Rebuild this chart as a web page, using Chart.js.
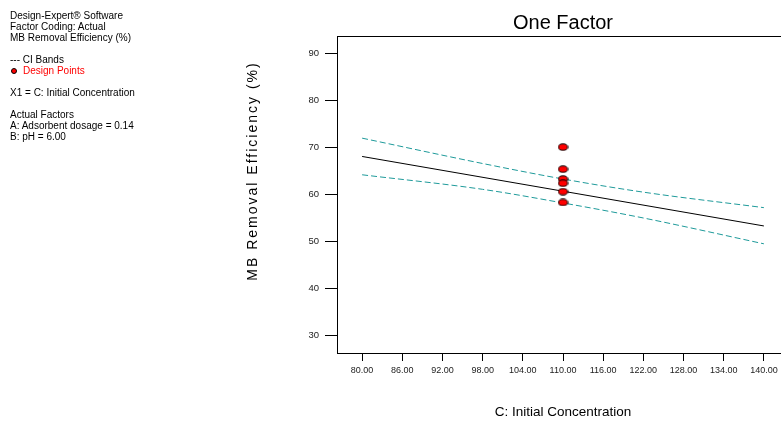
<!DOCTYPE html>
<html>
<head>
<meta charset="utf-8">
<title>One Factor</title>
<script src="https://cdn.jsdelivr.net/npm/chart.js@4.4.0/dist/chart.umd.min.js"></script>
<style>
    html, body { margin: 0; padding: 0; background: #fff; overflow: hidden; width: 781px; height: 423px; }
    #wrap { position: relative; width: 800px; height: 423px; }
    #chart { position: absolute; left: 0; top: 0; }
    #notes {
        position: absolute; left: 10px; top: 10px;
        font: 10px "Liberation Sans", Arial, sans-serif;
        line-height: 11px; color: #000; white-space: pre;
    }
    #notes .gap { height: 11px; }
    #notes .red { color: #ff0000; }
    #notes .dot {
        display: inline-block; width: 4px; height: 4px; border-radius: 50%;
        background: #ff0000; border: 1px solid #000; margin: 0 6px 1px 1px; vertical-align: middle;
    }
</style>
</head>
<body>
<div id="wrap">
    <canvas id="chart" width="800" height="423"></canvas>
    <div id="notes"><div>Design-Expert® Software</div><div>Factor Coding: Actual</div><div>MB Removal Efficiency (%)</div><div class="gap"></div><div>--- CI Bands</div><div><span class="dot"></span><span class="red">Design Points</span></div><div class="gap"></div><div>X1 = C: Initial Concentration</div><div class="gap"></div><div>Actual Factors</div><div>A: Adsorbent dosage = 0.14</div><div>B: pH = 6.00</div></div>
</div>

<script>
// ===============================
// DATA
// ===============================
const xTicks = [80, 86, 92, 98, 104, 110, 116, 122, 128, 134, 140];
const yTicks = [30, 40, 50, 60, 70, 80, 90];

const fitX = [80, 110, 140];
const fitY = [68.1, 60.7, 53.3];

const ciX = [80, 98, 110, 122, 140];
const ciUpper = [72.0, 66.6, 63.3, 60.5, 57.2];
const ciLower = [64.2, 61.1, 58.2, 55.0, 49.5];

const designX = [110, 110, 110, 110, 110, 110];
const designY = [70.1, 65.4, 63.3, 62.4, 60.6, 58.3];

const chartTitle = "One Factor";
const xTitle = "C: Initial Concentration";
const yTitle = "MB Removal Efficiency (%)";

const FONT = '"Liberation Sans", Arial, sans-serif';
const TEAL = "#1e9a9a";

function toPoints(xs, ys) {
    return xs.map((x, i) => ({ x, y: ys[i] }));
}

// red ellipse marker with black outline
function ellipseMarker() {
    const c = document.createElement("canvas");
    c.width = 11;
    c.height = 8;
    const g = c.getContext("2d");
    g.beginPath();
    g.ellipse(5.5, 4, 4.6, 3.2, 0, 0, Math.PI * 2);
    g.fillStyle = "#ff0000";
    g.fill();
    g.lineWidth = 1;
    g.strokeStyle = "#000";
    g.stroke();
    return c;
}

// frame around plot area (top + right edges)
const framePlugin = {
    id: "frame",
    beforeDatasetsDraw(chart) {
        const { ctx, chartArea: a } = chart;
        ctx.save();
        ctx.strokeStyle = "#000";
        ctx.lineWidth = 1;
        ctx.strokeRect(Math.round(a.left) + 0.5, Math.round(a.top) + 0.5,
            Math.round(a.right - a.left), Math.round(a.bottom - a.top));
        ctx.restore();
    }
};

// letter-spaced vertical axis title
const yTitlePlugin = {
    id: "yTitle",
    afterDraw(chart) {
        const ctx = chart.ctx;
        ctx.save();
        ctx.translate(253, 171);
        ctx.rotate(-Math.PI / 2);
        ctx.font = `14px ${FONT}`;
        ctx.letterSpacing = "2px";
        ctx.fillStyle = "#000";
        ctx.textAlign = "center";
        ctx.textBaseline = "middle";
        ctx.fillText(yTitle, 0, 0);
        ctx.restore();
    }
};

Chart.defaults.font.family = FONT;

new Chart(document.getElementById("chart"), {
    type: "scatter",
    data: {
        datasets: [
            {
                label: "Design Points",
                data: toPoints(designX, designY),
                pointStyle: ellipseMarker(),
                showLine: false
            },
            {
                label: "Fit",
                data: toPoints(fitX, fitY),
                showLine: true,
                borderColor: "#000",
                borderWidth: 1,
                pointRadius: 0,
                tension: 0
            },
            {
                label: "CI upper",
                data: toPoints(ciX, ciUpper),
                showLine: true,
                borderColor: TEAL,
                borderWidth: 1,
                borderDash: [6, 3],
                pointRadius: 0,
                cubicInterpolationMode: "monotone"
            },
            {
                label: "CI lower",
                data: toPoints(ciX, ciLower),
                showLine: true,
                borderColor: TEAL,
                borderWidth: 1,
                borderDash: [6, 3],
                pointRadius: 0,
                cubicInterpolationMode: "monotone"
            }
        ]
    },
    options: {
        responsive: false,
        animation: false,
        layout: { padding: { left: 0, right: 11, top: 0, bottom: 0 } },
        plugins: {
            legend: { display: false },
            tooltip: { enabled: false },
            title: {
                display: true,
                text: chartTitle,
                fullSize: false,
                color: "#000",
                font: { size: 20, weight: "normal" },
                padding: { top: 11, bottom: 1 }
            }
        },
        scales: {
            x: {
                type: "linear",
                min: 76.25,
                max: 143.75,
                afterBuildTicks: s => { s.ticks = xTicks.map(v => ({ value: v })); },
                afterFit: s => { s.height = 70; },
                ticks: {
                    color: "#222",
                    font: { size: 9 },
                    padding: 4,
                    maxRotation: 0,
                    autoSkip: false,
                    callback: v => v.toFixed(2)
                },
                grid: { drawOnChartArea: false, tickLength: 8, color: "#000" },
                border: { display: true, color: "#000" },
                title: {
                    display: true,
                    text: xTitle,
                    color: "#000",
                    font: { size: 13.5 },
                    padding: { top: 0, bottom: 3 }
                }
            },
            y: {
                type: "linear",
                min: 26.25,
                max: 93.75,
                afterBuildTicks: s => { s.ticks = yTicks.map(v => ({ value: v })); },
                afterFit: s => { s.width = 337; },
                ticks: {
                    color: "#222",
                    font: { size: 9.5 },
                    padding: 6,
                    callback: v => String(v)
                },
                grid: { drawOnChartArea: false, tickLength: 12, color: "#000" },
                border: { display: true, color: "#000" }
            }
        }
    },
    plugins: [framePlugin, yTitlePlugin]
});
</script>
</body>
</html>
